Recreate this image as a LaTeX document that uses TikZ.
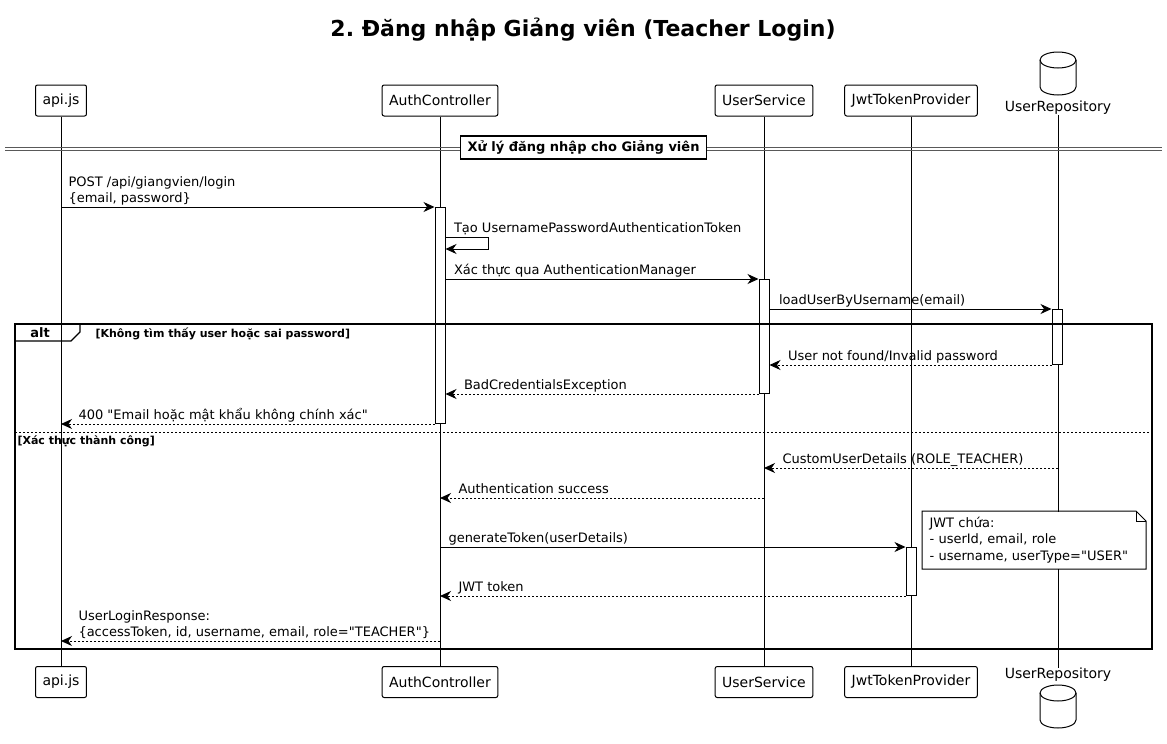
\documentclass[tikz,border=0pt]{standalone}
\usepackage{fontspec}
\setmainfont{DejaVu Sans}[Ligatures=TeXOff]
\usepackage{tikz}
\usetikzlibrary{arrows.meta,calc}
\frenchspacing

\newcommand{\msgfont}{\fontsize{13}{16}\selectfont}
\newcommand{\partfont}{\fontsize{14}{16}\selectfont}
% database icon, hanging below a named top point
\newcommand{\dbicon}[1]{%
  \draw[fill=white] ([xshift=-18pt,yshift=-8pt]#1) arc[start angle=180, end angle=0, x radius=18pt, y radius=8pt]
    -- ++(0pt,-27pt) arc[start angle=0, end angle=-180, x radius=18pt, y radius=8pt] -- cycle;
  \draw ([xshift=-18pt,yshift=-8pt]#1) arc[start angle=180, end angle=360, x radius=18pt, y radius=8pt];}

\tikzset{
  part/.style={draw, fill=white, rounded corners=2pt, minimum height=31pt, inner xsep=7pt, font=\partfont},
  actbar/.style={draw, fill=white, minimum width=10pt, inner sep=0pt, anchor=north},
  msg/.style={-{Stealth[length=11pt,width=10pt,inset=3.5pt]}},
  ret/.style={msg, dash pattern=on 2pt off 2pt},
  lbl/.style={font=\msgfont, inner sep=0pt, anchor=south west, text depth=3.5pt, yshift=1pt, align=left},
  cond/.style={font=\bfseries\fontsize{11}{13}\selectfont, inner sep=0pt, anchor=west}
}

\begin{document}
\begin{tikzpicture}[x=1pt, y=-1pt, line width=1pt]
  \useasboundingbox[fill=white] (0,0) rectangle (1167,744);

  \node[font=\bfseries\fontsize{22}{25}\selectfont] (Title) at (583,30) {2. Đăng nhập Giảng viên (Teacher Login)};

  % participants
  \node[part] (ApiTop) at (61,100.5) {api.js};
  \node[part] (AuthTop) at (440,100.5) {AuthController};
  \node[part] (ServiceTop) at (764,100.5) {UserService};
  \node[part] (JwtTop) at (911,100.5) {JwtTokenProvider};
  \coordinate (RepoIconTop) at (1058,52);
  \dbicon{RepoIconTop}
  \node[font=\partfont, inner sep=0pt] (RepoTop) at (1058,108) {UserRepository};

  \node[part] (ApiBot) at (61,682) {api.js};
  \node[part] (AuthBot) at (440,682) {AuthController};
  \node[part] (ServiceBot) at (764,682) {UserService};
  \node[part] (JwtBot) at (911,682) {JwtTokenProvider};
  \node[font=\partfont, inner sep=0pt] (RepoBot) at (1058,675) {UserRepository};
  \coordinate (RepoIconBot) at (1058,685);
  \dbicon{RepoIconBot}

  % lifelines
  \draw (ApiTop) -- (ApiBot);
  \draw (AuthTop) -- (AuthBot);
  \draw (ServiceTop) -- (ServiceBot);
  \draw (JwtTop) -- (JwtBot);
  \draw (RepoTop) -- (RepoBot);

  % divider
  \draw[gray!70!black, line width=0.9pt] (5,147) -- (1162,147);
  \draw[gray!70!black, line width=0.9pt] (5,150.5) -- (1162,150.5);
  \node[draw, fill=white, line width=1.3pt, minimum height=23pt, inner xsep=7pt, font=\bfseries\msgfont] (Divider) at (583.5,147.5) {Xử lý đăng nhập cho Giảng viên};

  % activations
  \node[actbar, minimum height=216pt] (AuthAct) at (440,207) {};
  \node[actbar, minimum height=114pt] (ServiceAct) at (764,279) {};
  \node[actbar, minimum height=55pt] (RepoAct) at (1057,309) {};
  \node[actbar, minimum height=48pt] (JwtAct) at (911,547) {};

  % alt frame
  \draw[line width=1.3pt] (15,324) rectangle (1152,649);
  \draw[line width=1.3pt] (15,341) -- (71,341) -- (80,332) -- (80,324);
  \node[font=\bfseries\msgfont, inner sep=0pt] (AltTag) at (40,333) {alt};
  \node[cond] (AltCond) at (95,334) {[Không tìm thấy user hoặc sai password]};
  \draw[dash pattern=on 2pt off 2pt] (15,432) -- (1152,432);
  \node[cond] (ElseCond) at (17,441) {[Xác thực thành công]};

  \coordinate (RowCustom) at (0,468);
  \coordinate (RowSuccess) at (0,498);
  \coordinate (RowResponse) at (0,641);

  % messages
  \draw[msg] (ApiTop |- AuthAct.north) -- (AuthAct.north west)
    node[lbl, pos=0, xshift=7pt] (PostLbl) {POST /api/giangvien/login\\\{email, password\}};
  \draw[msg] ([yshift=-30pt]AuthAct.north east) -- ++(43,0)
    node[lbl, pos=0, xshift=8pt] (TokenLbl) {Tạo UsernamePasswordAuthenticationToken}
    -- ++(0,12) -- ++(-43,0);
  \draw[msg] (AuthAct.east |- ServiceAct.north) -- (ServiceAct.north west)
    node[lbl, pos=0, xshift=8pt] (VerifyLbl) {Xác thực qua AuthenticationManager};
  \draw[msg] (ServiceAct.east |- RepoAct.north) -- (RepoAct.north west)
    node[lbl, pos=0, xshift=9pt] (LoadLbl) {loadUserByUsername(email)};
  \draw[ret] (RepoAct.south west) -- (ServiceAct.east |- RepoAct.south)
    node[lbl, pos=1, xshift=18pt] (NotFoundLbl) {User not found/Invalid password};
  \draw[ret] (ServiceAct.south west) -- (AuthAct.east |- ServiceAct.south)
    node[lbl, pos=1, xshift=18pt] (BadLbl) {BadCredentialsException};
  \draw[ret] (AuthAct.south west) -- (ApiTop |- AuthAct.south)
    node[lbl, pos=1, xshift=17pt] (ErrLbl) {400 "Email hoặc mật khẩu không chính xác"};
  \draw[ret] (RepoTop |- RowCustom) -- (ServiceTop |- RowCustom)
    node[lbl, pos=1, xshift=18pt] (DetailsLbl) {CustomUserDetails (ROLE\_TEACHER)};
  \draw[ret] (ServiceTop |- RowSuccess) -- (AuthTop |- RowSuccess)
    node[lbl, pos=1, xshift=18pt] (SuccessLbl) {Authentication success};
  \draw[msg] (AuthTop |- JwtAct.north) -- (JwtAct.north west)
    node[lbl, pos=0, xshift=8pt] (GenLbl) {generateToken(userDetails)};
  \draw[ret] (JwtAct.south west) -- (AuthTop |- JwtAct.south)
    node[lbl, pos=1, xshift=18pt] (JwtLbl) {JWT token};
  \draw[ret] (AuthTop |- RowResponse) -- (ApiTop |- RowResponse)
    node[lbl, pos=1, xshift=17pt] (RespLbl) {UserLoginResponse:\\\{accessToken, id, username, email, role="TEACHER"\}};

  % note
  \node[fill=white, anchor=north west, align=left, font=\fontsize{13}{16.5}\selectfont,
        minimum width=223pt, minimum height=57pt, inner xsep=7pt, text width=209pt] (JwtNote) at (922,511)
    {JWT chứa:\\- userId, email, role\\- username, userType="USER"};
  \draw (JwtNote.north west) -- ([xshift=-10pt]JwtNote.north east) -- ([yshift=-10pt]JwtNote.north east)
    -- (JwtNote.south east) -- (JwtNote.south west) -- cycle;
  \draw ([xshift=-10pt]JwtNote.north east) |- ([yshift=-10pt]JwtNote.north east);
\end{tikzpicture}
\end{document}
